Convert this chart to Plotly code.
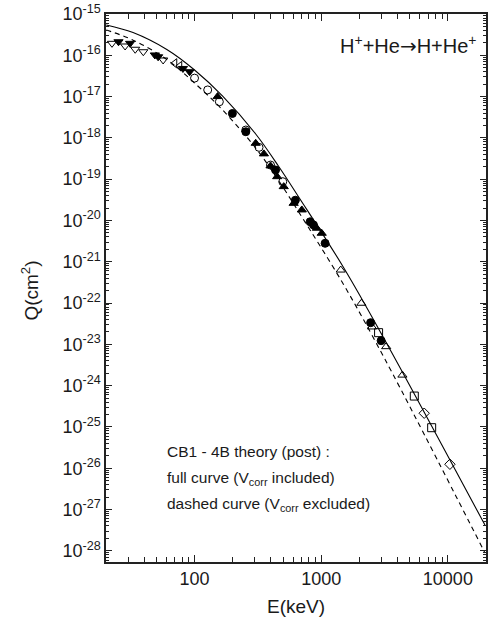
import plotly.graph_objects as go

# Theory curves (E in keV, Q in cm^2)
full_E = [20.1, 32.7, 60.4, 100, 166, 304, 462, 664, 1493, 3177, 19630]
full_Q = [5.42e-16, 3.55e-16, 1.38e-16, 4.41e-17, 1.04e-17, 1.24e-18, 2.03e-19, 3.71e-20, 7.5e-22, 1.28e-23, 4.2e-28]
dash_E = [20.1, 32.7, 60.4, 100, 166, 304, 462, 664, 1493, 3177, 19630]
dash_Q = [4.10e-16, 2.33e-16, 7.9e-17, 2.13e-17, 4.79e-18, 5.69e-19, 9.14e-20, 1.61e-20, 2.90e-22, 4.43e-24, 8.9e-29]

# Experimental data sets
tdo_E = [22.3, 28.3, 34.0, 39.4, 56.5]
tdo_Q = [1.95e-16, 1.68e-16, 1.40e-16, 1.22e-16, 7.7e-17]
tdf_E = [25.1, 31.0, 48.6, 51.6, 81, 91.4]
tdf_Q = [2.13e-16, 1.95e-16, 1.02e-16, 9.2e-17, 4.8e-17, 4.0e-17]
tlo_E = [69.8, 76.4]
tlo_Q = [6.4e-17, 5.5e-17]
co_E = [100, 127, 157, 254, 323, 398, 497]
co_Q = [2.8e-17, 1.45e-17, 7.5e-18, 1.55e-18, 5.9e-19, 2.2e-19, 8.7e-20]
cf_E = [199, 254, 436, 625, 818, 869, 1074, 2455, 2972]
cf_Q = [3.9e-18, 1.41e-18, 1.67e-19, 3.1e-20, 9.3e-21, 7.8e-21, 2.8e-21, 3.35e-23, 1.23e-23]
tuf_E = [152, 304, 353, 398, 449, 506, 606, 703, 923, 1009]
tuf_Q = [1.0e-17, 7.4e-19, 4.1e-19, 2.1e-19, 1.15e-19, 6.6e-20, 2.6e-20, 1.8e-20, 6.5e-21, 4.9e-21]
tuo_E = [1426, 2075, 2518, 3258, 4377]
tuo_Q = [6.3e-22, 9.9e-23, 2.64e-23, 8.8e-24, 1.8e-24]
sq_E = [2838, 5433, 7447]
sq_Q = [1.92e-23, 5.6e-25, 9.6e-26]
di_E = [6502, 10380]
di_Q = [2.15e-25, 1.25e-26]

y_tickvals = [10.0 ** (-k) for k in range(15, 29)]
y_ticktext = ["10<sup>-%d</sup>" % k for k in range(15, 29)]
x_tickvals = [100, 1000, 10000]
x_ticktext = ["100", "1000", "10000"]

fig = go.Figure()
fig.add_trace(go.Scatter(x=full_E, y=full_Q, mode="lines", line=dict(color="black", width=1.1, shape="spline")))
fig.add_trace(go.Scatter(x=dash_E, y=dash_Q, mode="lines", line=dict(color="black", width=1.1, dash="5px,4px", shape="spline")))

msize = 8
sets = [
    (tdo_E, tdo_Q, "triangle-down-open"),
    (tdf_E, tdf_Q, "triangle-down"),
    (tlo_E, tlo_Q, "triangle-left-open"),
    (co_E, co_Q, "circle-open"),
    (cf_E, cf_Q, "circle"),
    (tuf_E, tuf_Q, "triangle-up"),
    (tuo_E, tuo_Q, "triangle-up-open"),
    (sq_E, sq_Q, "square-open"),
    (di_E, di_Q, "diamond-open"),
]
for xs, ys, sym in sets:
    fig.add_trace(go.Scatter(x=xs, y=ys, mode="markers",
                             marker=dict(symbol=sym, size=msize, color="black",
                                         line=dict(color="black", width=1))))

font = "Liberation Sans, Arial, sans-serif"
fig.update_layout(
    width=490, height=625,
    margin=dict(l=106, r=2, t=14, b=63),
    paper_bgcolor="white", plot_bgcolor="white",
    showlegend=False,
    font=dict(family=font, color="#1a1a1a", size=16),
)
fig.update_xaxes(type="log", range=[1.301, 4.301],
                 tickvals=x_tickvals, ticktext=x_ticktext,
                 ticks="inside", ticklen=7, tickwidth=1.2, tickcolor="#222",
                 showline=True, linecolor="#222", linewidth=1.5, mirror="ticks",
                 showgrid=False, zeroline=False,
                 tickfont=dict(size=18, family=font),
                 minor=dict(ticks="inside", ticklen=5, tickwidth=1, tickcolor="#222", dtick="D1", showgrid=False))
fig.update_yaxes(type="log", range=[-28.27, -15],
                 tickvals=y_tickvals, ticktext=y_ticktext,
                 ticks="inside", ticklen=6, tickwidth=1.2, tickcolor="#222",
                 showline=True, linecolor="#222", linewidth=1.5, mirror="ticks",
                 showgrid=False, zeroline=False,
                 tickfont=dict(size=18, family=font),
                 minor=dict(ticks="inside", ticklen=3, tickwidth=1, tickcolor="#222", dtick="D1", showgrid=False))

arrow = '<span style="font-family:DejaVu Sans">\u2192</span>'
ann = [
    dict(text="Q(cm<sup>2</sup>)", x=-0.199, y=0.496, textangle=-90, font=dict(size=19)),
    dict(text="E(keV)", x=0.5, y=-0.082, font=dict(size=19)),
    dict(text="H<sup>+</sup>+He" + arrow + "H+He<sup>+</sup>", x=0.797, y=0.943, font=dict(size=20)),
    dict(text="CB1 - 4B theory (post) :", x=0.154, y=0.2025, xanchor="left", font=dict(size=15.5)),
    dict(text="full curve (V<sub>corr</sub> included)", x=0.154, y=0.1515, xanchor="left", font=dict(size=15.5)),
    dict(text="dashed curve (V<sub>corr</sub> excluded)", x=0.154, y=0.1055, xanchor="left", font=dict(size=15.5)),
]
for a in ann:
    a.setdefault("xanchor", "center")
    fig.add_annotation(xref="paper", yref="paper", yanchor="middle", showarrow=False, **a)

fig.write_html("out.html")
